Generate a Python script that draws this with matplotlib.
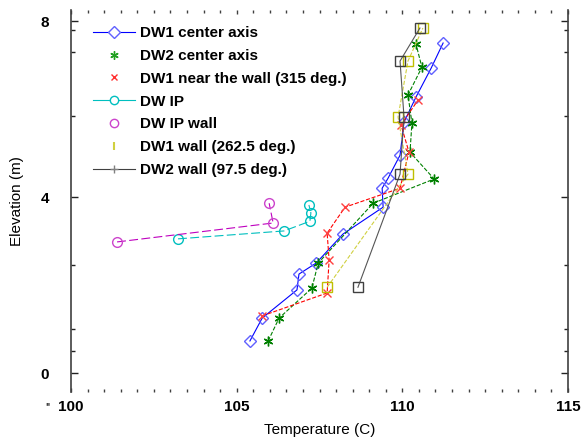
import matplotlib
matplotlib.use('Agg')
from matplotlib import pyplot as plt
from matplotlib.lines import Line2D
from matplotlib.ticker import MultipleLocator, FixedLocator

plt.rcParams['font.family'] = ['Liberation Sans', 'DejaVu Sans']
plt.rcParams['font.weight'] = 'bold'

# temperature (C) vs elevation (m)
dw1_center_t = [105.40, 105.77, 106.82, 106.88, 107.40, 108.21, 109.42, 109.39, 109.57, 109.93, 110.05, 110.41, 110.87, 111.23]
dw1_center_z = [0.73, 1.25, 1.89, 2.25, 2.50, 3.16, 3.77, 4.20, 4.43, 4.95, 5.70, 6.27, 6.93, 7.50]

dw2_center_t = [105.95, 106.28, 107.27, 107.46, 109.12, 110.96, 110.23, 110.29, 110.17, 110.59, 110.41]
dw2_center_z = [0.73, 1.25, 1.93, 2.50, 3.86, 4.41, 5.02, 5.68, 6.32, 6.95, 7.48]

dw1_near_t = [105.77, 107.73, 107.79, 107.73, 108.27, 109.93, 110.20, 109.96, 110.47]
dw1_near_z = [1.30, 1.82, 2.57, 3.18, 3.77, 4.20, 5.02, 5.64, 6.20]

dw_ip_t = [103.23, 106.43, 107.21, 107.24, 107.18]
dw_ip_z = [3.05, 3.23, 3.45, 3.64, 3.82]

dw_ip_wall_t = [101.39, 106.10, 105.98]
dw_ip_wall_z = [2.98, 3.41, 3.86]

dw1_wall_t = [107.73, 110.17, 109.87, 110.17, 110.62]
dw1_wall_z = [1.95, 4.52, 5.82, 7.09, 7.84]

dw2_wall_t = [108.66, 109.93, 110.05, 109.93, 110.53]
dw2_wall_z = [1.95, 4.52, 5.82, 7.09, 7.84]

labels = ['DW1 center axis', 'DW2 center axis', 'DW1 near the wall (315 deg.)',
          'DW IP', 'DW IP wall', 'DW1 wall (262.5 deg.)', 'DW2 wall (97.5 deg.)']

fig = plt.figure(figsize=(5.83, 4.41), dpi=100)
ax = fig.add_axes([0.1218, 0.1111, 0.8525, 0.8662])

ms = 6
lw = 0.8
star = (6, 2, 0)
ax.plot(dw1_center_t, dw1_center_z, color='#0000ff', lw=lw, marker='D', ms=ms,
        mfc='none', mec='#6060ff')
ax.plot(dw2_center_t, dw2_center_z, color='#008000', lw=lw, ls='--', marker=star, ms=ms + 1,
        mec='#008000')
ax.plot(dw1_near_t, dw1_near_z, color='#ff0000', lw=lw, ls='--', marker='x', ms=ms,
        mec='#ff4040')
ax.plot(dw_ip_t, dw_ip_z, color='#00bfbf', lw=lw, ls=(0, (8, 3)), marker='o', ms=ms + 1,
        mfc='none', mec='#00bfbf')
ax.plot(dw_ip_wall_t, dw_ip_wall_z, color='#bf00bf', lw=lw, ls=(0, (8, 3)), marker='o', ms=ms + 1,
        mfc='none', mec='#cc44cc')
ax.plot(dw1_wall_t, dw1_wall_z, color='#d0d040', lw=lw, ls='--', marker='s', ms=ms + 1,
        mfc='none', mec='#bfbf00')
ax.plot(dw2_wall_t, dw2_wall_z, color='#555555', lw=lw, marker='s', ms=ms + 1,
        mfc='none', mec='#404040')

handles = [
    Line2D([], [], color='#0000ff', lw=lw, marker='D', ms=ms, mfc='white', mec='#6060ff'),
    Line2D([], [], ls='none', marker=star, ms=ms, mec='#20a020'),
    Line2D([], [], ls='none', marker='x', ms=ms - 1, mec='#ff3030'),
    Line2D([], [], color='#00bfbf', lw=lw, marker='o', ms=ms, mfc='white', mec='#00bfbf'),
    Line2D([], [], ls='none', marker='o', ms=ms, mfc='none', mec='#cc44cc'),
    Line2D([], [], ls='none', marker='|', ms=ms, mec='#d0d040', mew=1.5),
    Line2D([], [], color='#404040', lw=lw, marker='+', ms=ms, mec='#808080'),
]
ax.legend(handles, labels, loc='upper left', bbox_to_anchor=(0.044, 0.958),
          frameon=False, borderpad=0, borderaxespad=0, handlelength=2.75,
          handletextpad=0.33, labelspacing=0.58, fontsize=11)

ax.set_xlim(100, 115)
ax.set_ylim(-0.43, 8.25)
ax.set_xticks([100, 105, 110, 115])
ax.xaxis.set_minor_locator(MultipleLocator(0.5))
ax.set_yticks([0, 4, 8])
ax.yaxis.set_minor_locator(FixedLocator([0.5, 1.0, 2.45, 5.85, 7.3, 7.8]))

for s in ['top', 'bottom']:
    ax.spines[s].set_visible(False)
for s in ['left', 'right']:
    ax.spines[s].set_color('#404040')
    ax.spines[s].set_linewidth(1.2)

ax.tick_params(axis='x', which='both', direction='in', top=True, bottom=True,
               length=3, width=1, color='#404040', labelsize=11, pad=6)
ax.tick_params(axis='x', which='minor', length=2)
ax.tick_params(axis='y', which='both', direction='in', left=True, right=True,
               length=5, width=1, color='#222222', labelsize=11, pad=16)
ax.tick_params(axis='y', which='minor', length=3)

ax.set_xlabel('Temperature (C)', fontsize=11, labelpad=6)
ax.set_ylabel('Elevation (m)', fontsize=11)
ax.yaxis.set_label_coords(-0.095, 0.5)

fig.text(0.078, 0.07, "''", fontsize=8, color='#444444')

fig.savefig('out.png', dpi=100)
